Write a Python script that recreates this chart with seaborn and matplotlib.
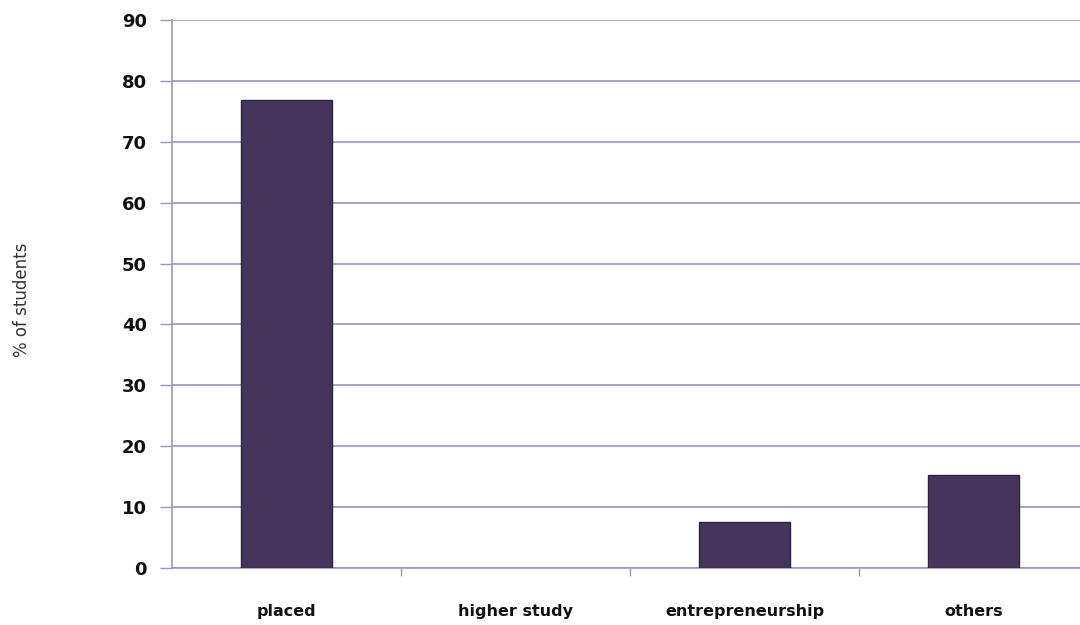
import matplotlib
matplotlib.use("Agg")
import matplotlib.pyplot as plt
import seaborn as sns
import pandas as pd
import numpy as np
from matplotlib.ticker import FixedLocator

categories = ["placed", "higher study", "entrepreneurship", "others"]
values = [76.9, 0.0, 7.5, 15.3]
yticks = [0, 10, 20, 30, 40, 50, 60, 70, 80, 90]

sns.set_theme(style="white")
plt.rcParams['font.family'] = ['DejaVu Sans']

df = pd.DataFrame({"category": categories, "value": values})

fig = plt.figure(figsize=(10.8, 6.25), dpi=100)
ax = fig.add_axes([172/1080, 1-568/625, (1088-172)/1080, (568-20)/625])

grid_c = "#9d95b9"
sns.barplot(data=df, x="category", y="value", color="#45355c", width=0.4,
            saturation=1, edgecolor="#2e2340", linewidth=1.0, ax=ax, zorder=3)
for p in ax.patches:
    if p.get_height() == 0:
        p.set_linewidth(0)

ax.set_xlim(-0.5, 3.5)
ax.set_ylim(0, 90)
ax.set_yticks(yticks)
ax.set_yticklabels([str(t) for t in yticks], fontsize=13, fontweight="bold", color="#111111")
ax.yaxis.grid(True, color=grid_c, linewidth=1.2, zorder=0)
ax.xaxis.grid(False)
ax.tick_params(axis="y", which="major", length=9, width=1.0, color=grid_c, pad=9, left=True)

ax.set_xticks(range(len(categories)))
ax.set_xticklabels(categories, fontsize=11.5, fontweight="bold", color="#111111")
ax.tick_params(axis="x", which="major", length=0, pad=26)
ax.xaxis.set_minor_locator(FixedLocator([0.5, 1.5, 2.5]))
ax.tick_params(axis="x", which="minor", length=6, width=1.0, color=grid_c, bottom=True)

for s in ["top", "right"]:
    ax.spines[s].set_visible(False)
ax.spines["left"].set_color(grid_c)
ax.spines["left"].set_linewidth(1.2)
ax.spines["bottom"].set_color(grid_c)
ax.spines["bottom"].set_linewidth(1.2)

ax.set_xlabel("")
ax.set_ylabel("")
fig.text(22/1080, 1-300/625, "% of students", rotation=90, va="center", ha="center",
         fontsize=12, color="#333333")

fig.savefig("out.png", dpi=100)
